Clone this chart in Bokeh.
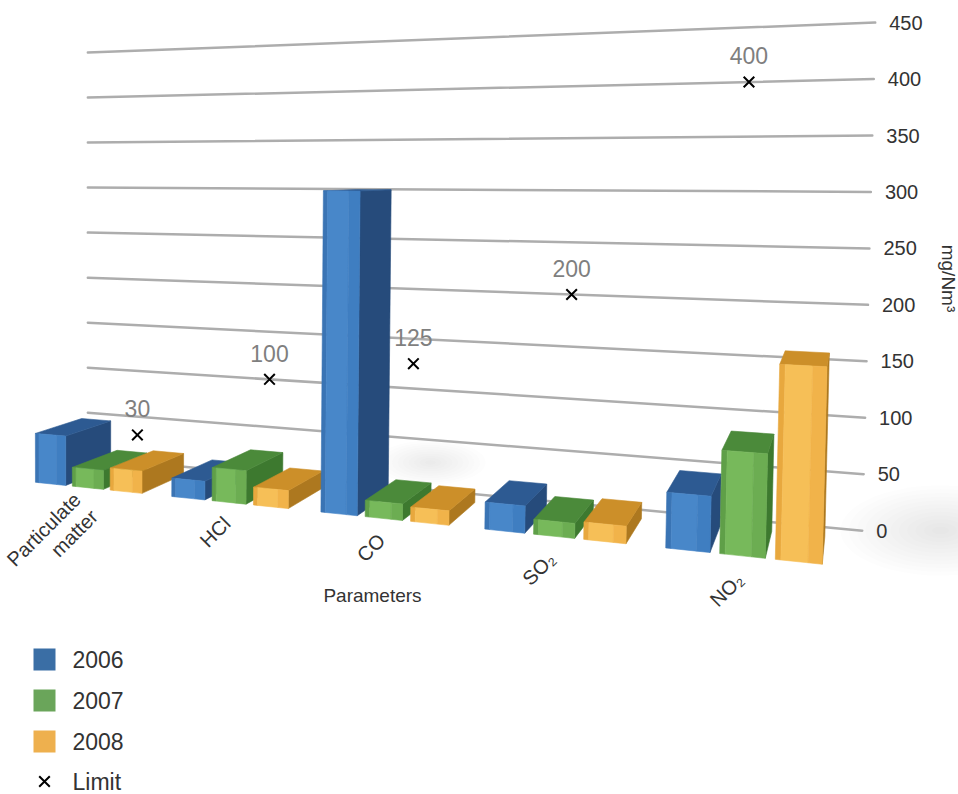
import math

from bokeh.core.properties import value
from bokeh.embed import file_html
from bokeh.models import ColumnDataSource, Range1d
from bokeh.plotting import figure
from bokeh.resources import INLINE

# ---------------------------------------------------------------- data
categories = ["Particulate\nmatter", "HCl", "CO", "SO₂", "NO₂"]
series_names = ["2006", "2007", "2008"]
values_2006 = [50, 18, 300, 24, 47]
values_2007 = [19, 32, 15, 13, 86]
values_2008 = [22, 17, 13, 15, 160]
limit_values = [30, 100, 125, 200, 400]
limit_name = "Limit"
y_ticks = [0, 50, 100, 150, 200, 250, 300, 350, 400, 450]
y_tick_labels = ["0", "50", "100", "150", "200", "250", "300", "350", "400", "450"]
x_title = "Parameters"
y_title = "mg/Nm³"

series_values = [values_2006, values_2007, values_2008]

FONT = value("Liberation Sans")
TEXT_DARK = "#333333"

# shading per series: front strips (edge, highlight, body), side, top
PALETTES = [
    {"front": ["#3a74b4", "#4887c9", "#3f7ec1"], "side": "#264b7b", "top": "#2d5a92",
     "key": "#3a6ea5"},
    {"front": ["#5f9f48", "#77b95b", "#6cad52"], "side": "#3d792f", "top": "#4b8a3a",
     "key": "#6aa55a"},
    {"front": ["#e8a83e", "#f6bf57", "#f1b34a"], "side": "#ad781f", "top": "#cc8f29",
     "key": "#eeb04e"},
]

# ---------------------------------------------------------------- 3-D view
FOCAL = 1129.0            # focal length in pixels
CX, CY = 479.0, 170.0     # principal point (CY is the horizon)
EYE = 319.0               # camera height, in value units
Z_REF = 1000.0            # depth of the wall's right edge
WALL_X0, WALL_Z0 = -435.0, 1254.0
_wx, _wz = 774.0, -254.0
WALL_LEN = math.hypot(_wx, _wz)
UX, UZ = _wx / WALL_LEN, _wz / WALL_LEN   # along the category axis
NX, NZ = UZ, -UX                          # towards the viewer
LEAN = 3.3e-5         # slight lean of verticals towards the near end
LEAN_X0, LEAN_Y0 = 88.0, 530.0

SLOT = 161.0          # category spacing along the wall
FIRST = 12.6          # start of the first cluster
BAR_W = 37.0
BAR_GAP = 8.0
D_FRONT = 100.0       # bar front faces, measured out from the wall
D_BACK = 27.0
LIMIT_SHIFT = -12.0
LABEL_DROP = -17.0    # category labels sit just below the floor
PX = Z_REF / FOCAL    # value units per screen pixel at the axis

W, H = 958, 794


def screen_y(sy):
    """screen pixel row -> plot y coordinate"""
    return EYE - (sy - CY) * PX


def project(s, d, v):
    """(position along wall, distance out from wall, value) -> plot coordinates."""
    X = WALL_X0 + s * UX + d * NX
    Z = WALL_Z0 + s * UZ + d * NZ
    sy = CY + FOCAL * (EYE - v) / Z
    sx = CX + FOCAL * X / Z
    sx = LEAN_X0 + (sx - LEAN_X0) * (1.0 + (LEAN_Y0 - sy) * LEAN)
    return sx, screen_y(sy)


p = figure(
    width=W, height=H, output_backend="svg", toolbar_location=None,
    x_range=Range1d(0, W), y_range=Range1d(screen_y(H), screen_y(0)),
    x_axis_location=None, y_axis_location=None, min_border=0,
)
p.outline_line_color = None
p.grid.visible = False
p.background_fill_color = "white"
p.border_fill_color = "white"


# ---------------------------------------------------------------- soft floor shading
def haze(cx, cy, w, h, steps, alpha):
    fr = [1.0 - k / steps for k in range(steps)]
    p.ellipse([cx] * steps, [screen_y(cy)] * steps,
              width=[w * f for f in fr], height=[h * f * PX for f in fr],
              fill_color="#7a7a7a", fill_alpha=alpha, line_color=None)


haze(940, 530, 200, 90, 12, 0.017)
haze(430, 462, 110, 44, 10, 0.012)

# ---------------------------------------------------------------- back wall grid + value labels
g0 = [project(0, 0, t) for t in y_ticks]
g1 = [project(WALL_LEN, 0, t) for t in y_ticks]
p.segment(x0=[a[0] for a in g0], y0=[a[1] for a in g0],
          x1=[b[0] for b in g1], y1=[b[1] for b in g1],
          line_color="#adadad", line_width=2.5, line_cap="round")
p.text([b[0] + 14 for b in g1], [b[1] for b in g1], text=y_tick_labels,
       text_align="left", text_baseline="middle",
       text_font=FONT, text_font_size="20px", text_color=TEXT_DARK)
p.text([948], [screen_y(278)], text=[y_title], angle=-math.pi / 2,
       text_align="center", text_baseline="middle",
       text_font=FONT, text_font_size="19px", text_color=TEXT_DARK)

# ---------------------------------------------------------------- bars (far to near)
xs, ys, fills = [], [], []


def face(points, color):
    pts = [project(*q) for q in points]
    xs.append([q[0] for q in pts])
    ys.append([q[1] for q in pts])
    fills.append(color)


strip_edges = [0.0, 0.12, 0.7, 1.0]
for i in range(len(categories)):
    for j, vals in enumerate(series_values):
        v = vals[i]
        pal = PALETTES[j]
        s0 = FIRST + i * SLOT + j * (BAR_W + BAR_GAP)
        s1 = s0 + BAR_W
        face([(s1, D_FRONT, 0), (s1, D_BACK, 0), (s1, D_BACK, v), (s1, D_FRONT, v)], pal["side"])
        face([(s0, D_FRONT, v), (s1, D_FRONT, v), (s1, D_BACK, v), (s0, D_BACK, v)], pal["top"])
        for k, col in enumerate(pal["front"]):
            a = s0 + strip_edges[k] * BAR_W
            b = s0 + strip_edges[k + 1] * BAR_W
            face([(a, D_FRONT, 0), (b, D_FRONT, 0), (b, D_FRONT, v), (a, D_FRONT, v)], col)

bars = ColumnDataSource(dict(xs=xs, ys=ys, fill=fills))
p.patches("xs", "ys", source=bars, fill_color="fill", line_color="fill", line_width=0.6)

# ---------------------------------------------------------------- limit markers
centers = [FIRST + i * SLOT + 1.5 * BAR_W + BAR_GAP for i in range(len(categories))]
lim_pts = [project(c + LIMIT_SHIFT, 0, lv) for c, lv in zip(centers, limit_values)]
p.scatter([q[0] for q in lim_pts], [q[1] for q in lim_pts], marker="x", size=15,
          line_color="black", line_width=2)
p.text([q[0] for q in lim_pts], [q[1] + 26 * PX for q in lim_pts],
       text=[str(lv) for lv in limit_values], text_align="center", text_baseline="middle",
       text_font=FONT, text_font_size="23px", text_color="#7f7f7f")

# ---------------------------------------------------------------- category labels
cat_pts = [project(c, D_FRONT, LABEL_DROP) for c in centers]
p.text([q[0] - 2 for q in cat_pts], [q[1] for q in cat_pts], text=categories,
       angle=math.pi / 4, text_align="right", text_baseline="middle",
       text_font=FONT, text_font_size="20px", text_color=TEXT_DARK, text_line_height=1.1)

p.text([372], [screen_y(595)], text=[x_title], text_align="center", text_baseline="middle",
       text_font=FONT, text_font_size="19px", text_color=TEXT_DARK)

# ---------------------------------------------------------------- legend
row_y = [659, 700, 741, 781]
key_half = 11
p.quad(left=[33] * 3, right=[55] * 3,
       top=[screen_y(r - key_half) for r in row_y[:3]],
       bottom=[screen_y(r + key_half) for r in row_y[:3]],
       fill_color=[pal["key"] for pal in PALETTES], line_color=None)
p.scatter([44], [screen_y(row_y[3])], marker="x", size=15, line_color="black", line_width=2)
p.text([72] * 4, [screen_y(r) for r in row_y], text=series_names + [limit_name],
       text_align="left", text_baseline="middle",
       text_font=FONT, text_font_size="23px", text_color=TEXT_DARK)

open("out.html", "w").write(file_html(p, INLINE))
